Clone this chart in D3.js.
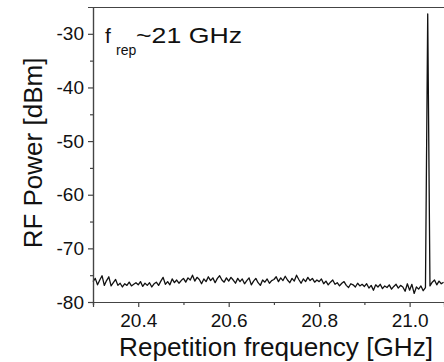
<!DOCTYPE html>
<html>
<head>
<meta charset="utf-8">
<script src="https://cdn.jsdelivr.net/npm/d3@7"></script>
<style>
  body { margin: 0; background: #fff; }
  text { font-family: "Liberation Sans", Arial, sans-serif; fill: #111; }
</style>
</head>
<body>
<div id="chart"></div>
<script>
// sweep settings (GHz)
const freqStart = 20.3;
const freqStep = 0.005;

// RF power, one value per sweep point [dBm]
const powerValues = [
  -76.2,-75.6,-76.8,-75.9,-75.1,-76.9,-76.0,-75.3,-77.0,-76.4,-75.8,-76.9,-76.5,-77.2,-76.6,-76.9,-76.3,-77.0,-76.7,-76.4,
  -76.8,-76.2,-77.1,-76.5,-76.9,-76.4,-77.2,-76.6,-76.3,-76.9,-76.1,-75.4,-76.7,-76.2,-76.8,-75.7,-76.4,-75.9,-76.5,-76.0,
  -75.6,-76.3,-75.5,-75.9,-75.0,-76.1,-75.4,-75.8,-76.6,-75.7,-76.2,-75.3,-76.0,-75.5,-76.4,-75.6,-75.1,-75.9,-76.3,-75.5,
  -76.1,-75.4,-75.9,-76.5,-75.6,-76.2,-75.7,-76.6,-76.0,-75.5,-76.8,-76.1,-75.6,-76.4,-76.9,-75.9,-76.3,-75.7,-76.5,-76.0,
  -75.8,-75.3,-76.2,-75.5,-76.0,-75.2,-75.9,-76.4,-75.6,-76.1,-75.0,-75.8,-76.5,-75.7,-76.2,-75.4,-76.0,-75.6,-76.3,-75.9,
  -76.2,-75.7,-76.6,-76.1,-76.8,-76.3,-75.9,-76.7,-76.4,-77.0,-76.5,-76.2,-76.9,-77.3,-76.6,-76.8,-77.2,-76.5,-77.0,-76.7,
  -77.1,-76.6,-77.4,-76.9,-77.8,-76.8,-77.2,-76.7,-77.5,-77.0,-77.3,-76.8,-77.6,-77.1,-76.7,-77.4,-76.9,-77.2,-78.0,-76.6,
  -77.8,-76.7,-78.4,-77.2,-77.6,-77.0,-77.9,-77.3,-26.3,
  -77.0,-76.3,-75.9,-76.8,-76.1,-76.6,-76.3
];

const xTicks = [20.4, 20.6, 20.8, 21.0];
const xMinorTicks = [20.3, 20.5, 20.7, 20.9];
const yTicks = [-80, -70, -60, -50, -40, -30];
const yMinorTicks = [-75, -65, -55, -45, -35];

const width = 444;
const height = 362;
const plotLeft = 93, plotTop = 7, plotBottom = 302, plotRight = 444;

const svg = d3.select("#chart").append("svg")
  .attr("width", width)
  .attr("height", height);

const x = d3.scaleLinear().domain([20.3, 21.076]).range([plotLeft, plotRight]);
const y = d3.scaleLinear().domain([-80, -25]).range([plotBottom, plotTop]);

const data = powerValues.map((p, i) => ({ f: freqStart + i * freqStep, p: p }));

// trace
svg.append("path")
  .datum(data)
  .attr("fill", "none")
  .attr("stroke", "#111")
  .attr("stroke-width", 1.3)
  .attr("stroke-linejoin", "round")
  .attr("d", d3.line().x(d => x(d.f)).y(d => y(d.p)));

// frame top line
svg.append("line")
  .attr("x1", plotLeft).attr("x2", plotRight)
  .attr("y1", plotTop + 0.5).attr("y2", plotTop + 0.5)
  .attr("stroke", "#444").attr("stroke-width", 1.2);

// axes
const xAxis = svg.append("g")
  .attr("transform", "translate(0," + plotBottom + ")")
  .call(d3.axisBottom(x).tickValues(xTicks).tickFormat(d3.format(".1f")).tickSize(5).tickPadding(7));
const xMinor = svg.append("g")
  .attr("transform", "translate(0," + plotBottom + ")")
  .call(d3.axisBottom(x).tickValues(xMinorTicks).tickFormat("").tickSize(3));

const yAxis = svg.append("g")
  .attr("transform", "translate(" + plotLeft + ",0)")
  .call(d3.axisLeft(y).tickValues(yTicks).tickFormat(d => String(d)).tickSize(5).tickPadding(4));
const yMinor = svg.append("g")
  .attr("transform", "translate(" + plotLeft + ",0)")
  .call(d3.axisLeft(y).tickValues(yMinorTicks).tickFormat("").tickSize(3));

[xAxis, xMinor, yAxis, yMinor].forEach(g => {
  g.select(".domain").attr("stroke", "#444").attr("stroke-width", 1.2);
  g.selectAll(".tick line").attr("stroke", "#444").attr("stroke-width", 1.2);
  g.selectAll("text").style("font-size", "19px").attr("fill", "#111");
});

// axis titles
svg.append("text")
  .attr("x", 276).attr("y", 356)
  .attr("text-anchor", "middle")
  .attr("textLength", 314)
  .attr("lengthAdjust", "spacingAndGlyphs")
  .style("font-size", "25px")
  .text("Repetition frequency [GHz]");

svg.append("text")
  .attr("transform", "translate(42,153) rotate(-90)")
  .attr("text-anchor", "middle")
  .style("font-size", "26px")
  .text("RF Power [dBm]");

// annotation
svg.append("text")
  .attr("x", 105).attr("y", 43)
  .style("font-size", "21px")
  .text("f");
svg.append("text")
  .attr("x", 116).attr("y", 55)
  .style("font-size", "14px")
  .text("rep");
svg.append("text")
  .attr("x", 136).attr("y", 43)
  .attr("textLength", 106)
  .attr("lengthAdjust", "spacingAndGlyphs")
  .style("font-size", "22px")
  .text("~21 GHz");
</script>
</body>
</html>
